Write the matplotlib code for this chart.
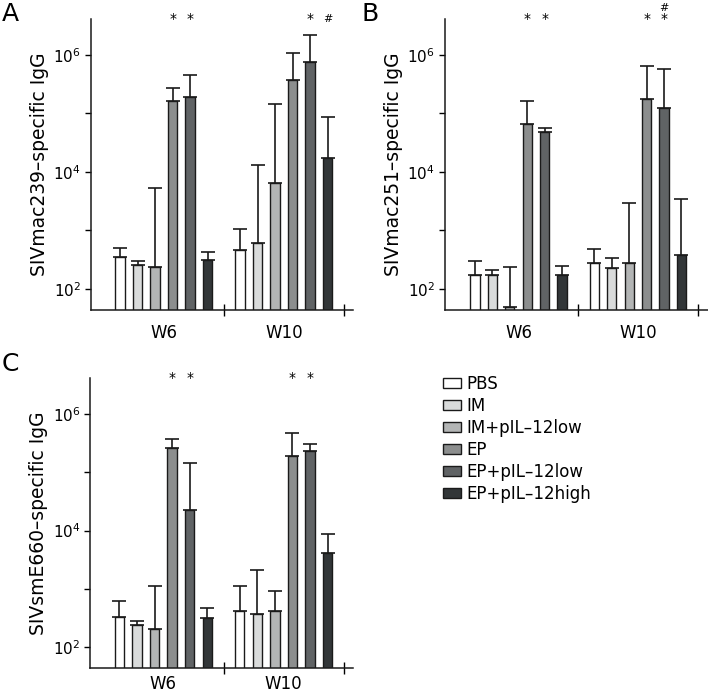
import matplotlib
matplotlib.use("Agg")
import matplotlib.pyplot as plt
import matplotlib.transforms as mtransforms
from matplotlib.patches import Patch
from matplotlib.ticker import FixedLocator, NullFormatter
import numpy as np

plt.rcParams['font.family'] = ['DejaVu Sans']

groups = ["W6", "W10"]
series = ["PBS", "IM", "IM+pIL\u201312low", "EP", "EP+pIL\u201312low", "EP+pIL\u201312high"]
colors = ["#ffffff", "#d9dbdb", "#b3b5b5", "#8c8e8e", "#606365", "#323638"]

# Panel A: SIVmac239
a_vals = [[350, 257, 234, 162000, 190000, 310],
          [465, 610, 6450, 380000, 760000, 17000]]
a_errs = [[500, 300, 5300, 275000, 460000, 425],
          [1050, 13200, 145000, 1100000, 2200000, 87000]]
# Panel B: SIVmac251
b_vals = [[172, 172, 49, 67000, 48000, 172],
          [271, 228, 271, 178000, 125000, 383]]
b_errs = [[293, 211, 231, 163000, 57000, 245],
          [470, 330, 2950, 650000, 575000, 3450]]
# Panel C: SIVsmE660
c_vals = [[327, 242, 206, 258000, 23000, 310],
          [414, 368, 414, 193000, 232000, 4070]]
c_errs = [[630, 283, 1120, 370000, 147000, 466],
          [1120, 2090, 935, 466000, 307000, 8900]]

# significance marks: (group, series index, symbol, row)
a_marks = [(0, 3, "*", 0), (0, 4, "*", 0), (1, 4, "*", 0), (1, 5, "#", 0)]
b_marks = [(0, 3, "*", 0), (0, 4, "*", 0), (1, 3, "*", 0), (1, 4, "*", 0), (1, 4, "#", 1)]
c_marks = [(0, 3, "*", 0), (0, 4, "*", 0), (1, 3, "*", 0), (1, 4, "*", 0)]

ylabels = ["SIVmac239\u2013specific IgG", "SIVmac251\u2013specific IgG", "SIVsmE660\u2013specific IgG"]
letters = ["A", "B", "C"]

W, H = 708, 698
fig = plt.figure(figsize=(W / 100, H / 100), dpi=100)

def px_axes(x0, y0, x1, y1):
    return fig.add_axes([x0 / W, 1 - y1 / H, (x1 - x0) / W, (y1 - y0) / H])

axA = px_axes(90.7, 19, 352.7, 310)
axB = px_axes(444.7, 19, 708, 310)
axC = px_axes(90, 378.3, 352.7, 668.3)

spacing = 0.146
bw = 0.078
offsets = (np.arange(6) - 2.5) * spacing

def draw(ax, vals, errs, marks, ylabel, xlim, xpad):
    for g in range(2):
        for s in range(6):
            x = g + offsets[s]
            v = vals[g][s]
            e = errs[g][s]
            ax.bar(x, v, width=bw, color=colors[s], edgecolor="#1a1a1a",
                   linewidth=1.0, zorder=2, bottom=1e-3)
            ax.errorbar(x, v, yerr=[[0], [e - v]], fmt="none", ecolor="#1a1a1a",
                        elinewidth=1.2, capsize=5, capthick=1.2, zorder=1)
    ax.set_yscale("log")
    ax.set_ylim(10 ** 1.636, 10 ** 6.615)
    ax.set_xlim(*xlim)
    ax.yaxis.set_major_locator(FixedLocator([1e2, 1e4, 1e6]))
    ax.yaxis.set_minor_locator(FixedLocator([1e3, 1e5]))
    ax.yaxis.set_minor_formatter(NullFormatter())
    ax.set_yticklabels([r"$10^2$", r"$10^4$", r"$10^6$"])
    ax.tick_params(axis="y", which="both", direction="out", length=4, width=1,
                   labelsize=11, pad=3)
    ax.set_xticks([0.5, 1.5])
    ax.set_xticklabels([])
    ax.tick_params(axis="x", which="major", direction="inout", length=8, width=1)
    ax.set_xticks([0, 1], minor=True)
    ax.set_xticklabels(groups, minor=True)
    ax.tick_params(axis="x", which="minor", length=0, labelsize=12, pad=xpad)
    for sp in ["top", "right"]:
        ax.spines[sp].set_visible(False)
    for sp in ["left", "bottom"]:
        ax.spines[sp].set_linewidth(1.1)
        ax.spines[sp].set_color("#1a1a1a")
    ax.set_ylabel(ylabel, fontsize=13.5, labelpad=3)
    trans = mtransforms.blended_transform_factory(ax.transData, ax.transAxes)
    for g, s, sym, row in marks:
        ax.text(g + offsets[s], 1.0 + row * 0.037, sym, transform=trans,
                ha="center", va="center", fontsize=10 if sym == "*" else 8,
                clip_on=False)

draw(axA, a_vals, a_errs, a_marks, ylabels[0], (-0.609, 1.574), 10)
draw(axB, b_vals, b_errs, b_marks, ylabels[1], (-0.618, 1.587), 10)
draw(axC, c_vals, c_errs, c_marks, ylabels[2], (-0.61, 1.574), 5)

for lt, (x, y) in zip(letters, [(2, 2), (362, 2), (2, 352)]):
    fig.text(x / W, 1 - y / H, lt, fontsize=18, ha="left", va="top")

handles = [Patch(facecolor=c, edgecolor="#1a1a1a", linewidth=1.0) for c in colors]
fig.legend(handles, series, loc="upper left", bbox_to_anchor=(443 / W, 1 - 375 / H),
           frameon=False, fontsize=12, handlelength=1.05, handleheight=0.6,
           handletextpad=0.35, labelspacing=0.24, borderaxespad=0, borderpad=0)

fig.savefig("out.png", dpi=100)
